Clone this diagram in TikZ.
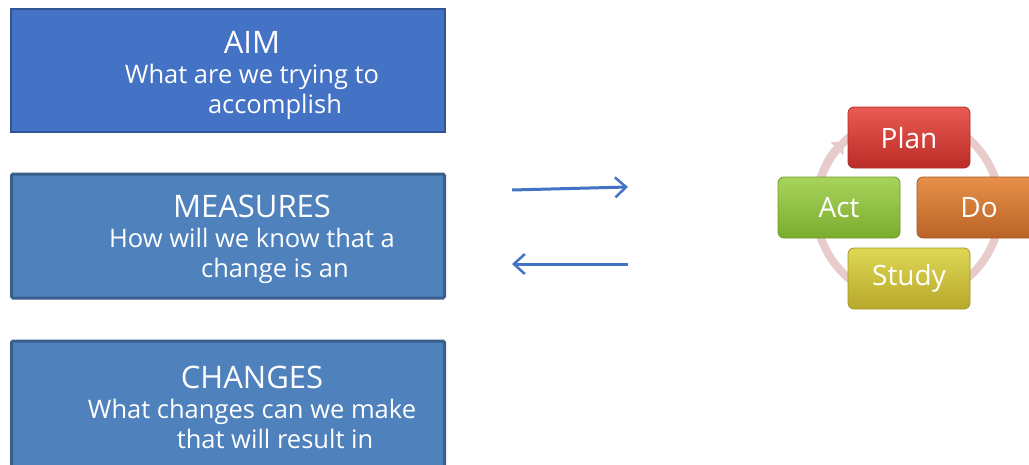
\documentclass[tikz,border=0pt]{standalone}
\usepackage{fontspec}
\setmainfont{Open Sans}
\usetikzlibrary{arrows.meta}
\definecolor{aimfill}{HTML}{4472C4}
\definecolor{aimdraw}{HTML}{2F5597}
\definecolor{boxfill}{HTML}{4F81BD}
\definecolor{boxdraw}{HTML}{3A5F8C}
\definecolor{arrcol}{HTML}{4472C4}
\definecolor{ringcol}{HTML}{E8CBCB}
\definecolor{plantop}{HTML}{E85A52}
\definecolor{planbot}{HTML}{BC2C27}
\definecolor{plandraw}{HTML}{A8302B}
\definecolor{dotop}{HTML}{E6904A}
\definecolor{dobot}{HTML}{BA6326}
\definecolor{dodraw}{HTML}{A65A25}
\definecolor{acttop}{HTML}{A8D35C}
\definecolor{actbot}{HTML}{7BAC2E}
\definecolor{actdraw}{HTML}{6E9A2A}
\definecolor{studytop}{HTML}{DED755}
\definecolor{studybot}{HTML}{B8A82B}
\definecolor{studydraw}{HTML}{A39528}
\tikzset{
  bigbox/.style={draw=boxdraw, fill=boxfill, line width=3pt, rounded corners=1.5pt,
    minimum width=433pt, inner sep=0pt},
  boxtext/.style={text=white, align=center, font=\fontsize{25.5}{30}\selectfont, inner sep=0pt},
  titlefont/.style={},
  arr/.style={draw=arrcol, line width=3pt, -{Straight Barb[length=11pt, width=20pt, line width=2.5pt]}},
  pdsa/.style={rounded corners=6pt, minimum width=122pt, minimum height=61pt, inner sep=0pt,
    text=white, font=\fontsize{28}{30}\selectfont, line width=0.8pt},
  ring/.style={draw=ringcol, line width=8pt}
}
\newcommand{\boxtitle}[1]{{\fontsize{31}{30}\selectfont #1}}
\begin{document}
\begin{tikzpicture}[x=1pt,y=-1pt]
\clip (0,0) rectangle (1029,464);
\fill[white] (0,0) rectangle (1029,464);

% left boxes
\node[draw=aimdraw, fill=aimfill, line width=1.5pt, minimum width=434pt, minimum height=123pt, inner sep=0pt] (aim) at (228,70.5) {};
\node[boxtext] (aimtext) at (252,75) {\boxtitle{AIM}\\ What are we trying to\\ \hspace*{46pt}accomplish};

\node[bigbox, minimum height=124pt] (measures) at (228,236) {};
\node[boxtext] (measurestext) at (252,239.5) {\boxtitle{MEASURES}\\ How will we know that a\\ \hspace*{46pt}change is an};

\node[bigbox, minimum height=130pt] (changes) at (228,406) {};
\node[boxtext] (changestext) at (252,407.5) {\boxtitle{CHANGES}\\ What changes can we make\\ \hspace*{46pt}that will result in};

% arrows
\coordinate (a1s) at (512,190);
\coordinate (a1e) at (628,187);
\coordinate (a2s) at (628,264);
\coordinate (a2e) at (512,264);
\draw[arr] (a1s) -- (a1e);
\draw[arr] (a2s) -- (a2e);

% PDSA cycle
\coordinate (cc) at (908,208);
\draw[ring] (cc) circle[radius=92];
\draw[ring, -{Triangle[length=10pt, width=18pt]}] ([shift={(180:92)}]cc) arc[start angle=180, end angle=226, radius=92];

\node[pdsa, draw=plandraw, top color=plantop, bottom color=planbot] (plan) at (909,137.5) {Plan};
\node[pdsa, draw=actdraw, top color=acttop, bottom color=actbot] (act) at (839,207.5) {Act};
\node[pdsa, draw=dodraw, top color=dotop, bottom color=dobot, minimum width=124pt, text width=110pt, align=center] (do) at (979,207.5) {Do};
\node[pdsa, draw=studydraw, top color=studytop, bottom color=studybot] (study) at (909,278.5) {Study};
\end{tikzpicture}
\end{document}
